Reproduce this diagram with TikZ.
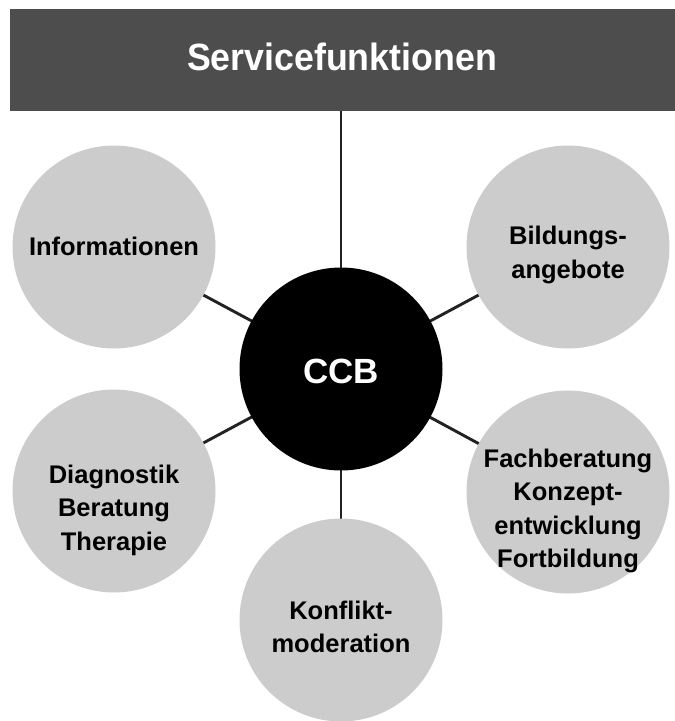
\documentclass[tikz,border=0pt]{standalone}
\usepackage{fontspec}
\newfontfamily\headfont[FakeStretch=0.94]{Liberation Sans}
\newfontfamily\labfont[FakeStretch=1.0]{Liberation Sans}
\newfontfamily\ccbfont{Liberation Sans}
\definecolor{hdr}{HTML}{4D4D4D}
\definecolor{circ}{HTML}{CCCCCC}
\definecolor{ln}{HTML}{222222}
\begin{document}
\begin{tikzpicture}[x=1pt,y=-1pt,
  outer/.style={circle,fill=circ,minimum size=203pt,inner sep=0pt},
  lab/.style={align=center,font=\labfont\bfseries\fontsize{25.5}{33.5}\selectfont,text=black},
  conn/.style={draw=ln,line width=2.9pt}]
\useasboundingbox (0,0) rectangle (675,721);
% header
\node[fill=hdr,minimum width=665pt,minimum height=102pt,inner sep=0pt,anchor=north west] (hdr) at (10,9) {};
\node[font=\headfont\bfseries\fontsize{38}{44}\selectfont,text=white] (hdrtxt) at (342,57) {Servicefunktionen};
% centre
\coordinate (c) at (341,369);
% connectors (drawn first, circles cover them)
\coordinate (pinfo) at (114,247);
\coordinate (pbild) at (568,247);
\coordinate (pdiag) at (114,491);
\coordinate (pfach) at (568,492);
\coordinate (pkonf) at (341,620);
\draw[conn] (hdr.south -| c) -- (c);
\foreach \n in {pinfo,pbild,pdiag,pfach,pkonf} {\draw[conn] (c) -- (\n);}
% circles
\node[outer] (info) at (pinfo) {};
\node[outer] (bild) at (pbild) {};
\node[outer] (diag) at (pdiag) {};
\node[outer] (fach) at (pfach) {};
\node[outer] (konf) at (pkonf) {};
\node[circle,fill=black,minimum size=203pt,inner sep=0pt] (ccb) at (c) {};
\node[font=\ccbfont\bfseries\fontsize{35}{40}\selectfont,text=white] (ccbtxt) at (341,371) {CCB};
% labels
\node[lab] (infot) at (114,246) {Informationen};
\node[lab] (bildt) at (568,255) {Bildungs-\\angebote};
\node[lab] (diagt) at (114,510) {Diagnostik\\Beratung\\Therapie};
\node[lab] (facht) at (568,511) {Fachberatung\\Konzept-\\entwicklung\\Fortbildung};
\node[lab] (konft) at (341,627) {Konflikt-\\moderation};
\end{tikzpicture}
\end{document}
